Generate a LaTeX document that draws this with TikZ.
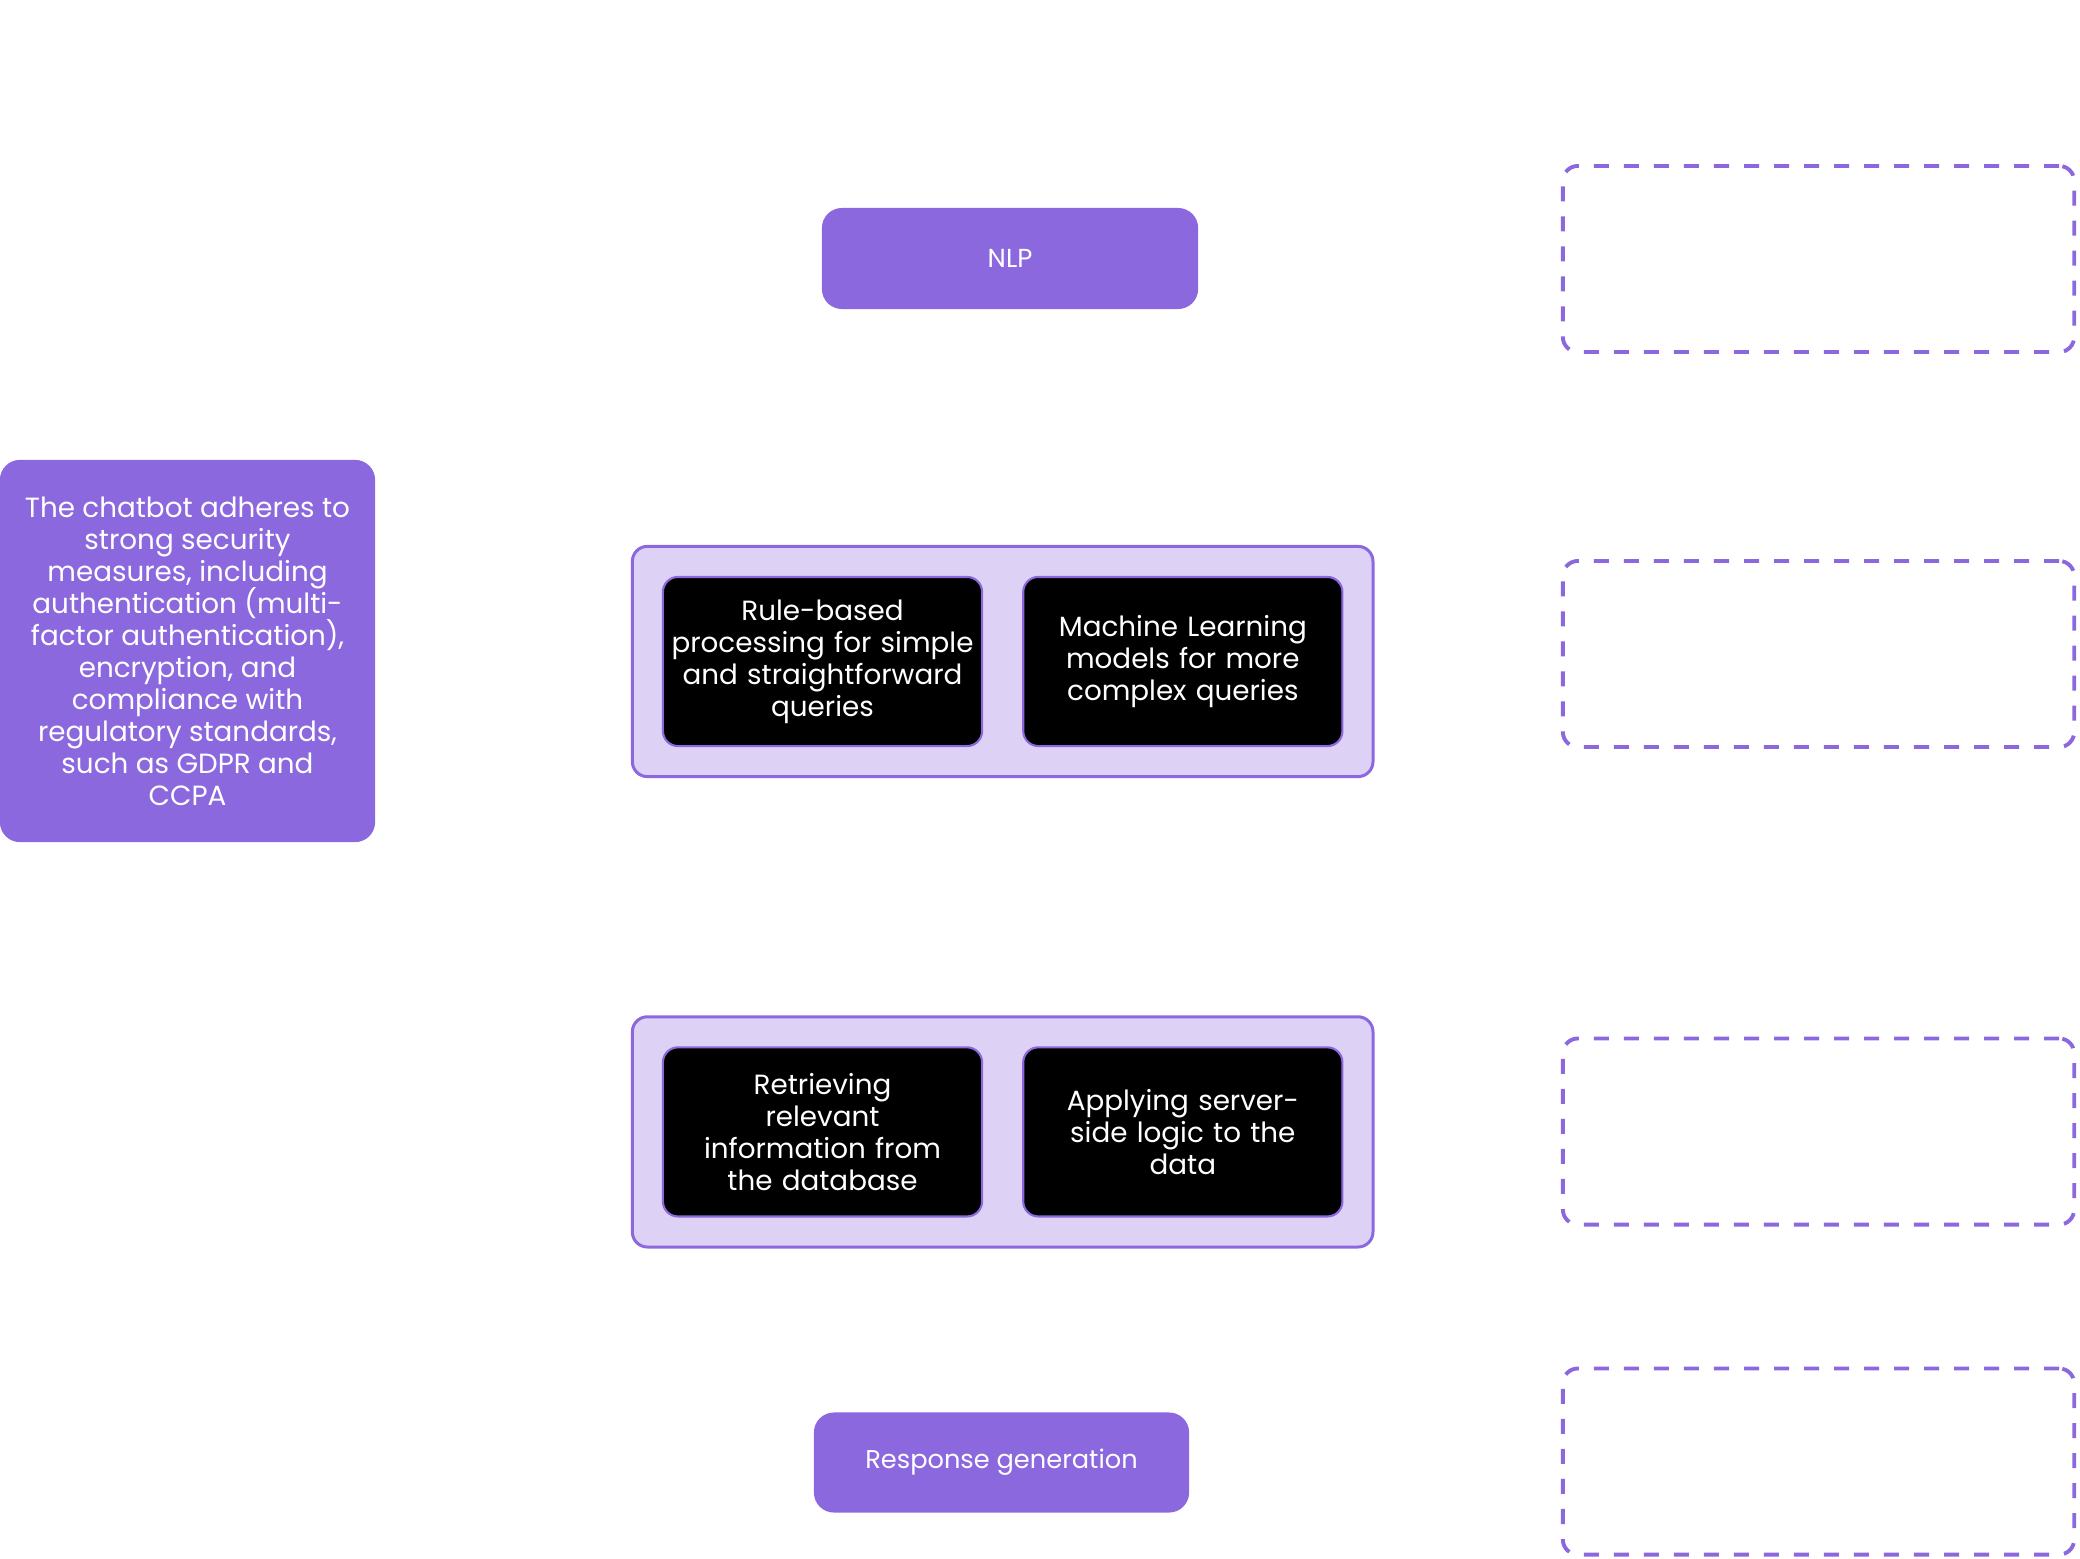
\documentclass[tikz,border=0pt]{standalone}
\usepackage{fontspec}
\setmainfont{Poppins}
\definecolor{BOTpurple}{HTML}{8C68DF}
\definecolor{BOTlilac}{HTML}{DDD1F5}
\newcommand{\flatlines}{\lineskiplimit=-10pt\relax}
\usetikzlibrary{positioning, fit, backgrounds}

\begin{document}
\begin{tikzpicture}[
      x=0.01cm, y=-0.01cm,
      font=\fontsize{7.9}{9.1}\selectfont\flatlines,
      stage/.style={fill=BOTpurple, rounded corners=0.2cm, text=white, align=center,
                    inner sep=0pt, minimum width=3.76cm, minimum height=1.01cm},
      group/.style={draw=BOTpurple, fill=BOTlilac, line width=0.85pt, rounded corners=0.15cm,
                    inner sep=0.295cm},
      task/.style={draw=BOTpurple, fill=black, line width=0.6pt, rounded corners=0.15cm,
                   text=white, align=center, inner sep=0pt, text width=3.1cm,
                   minimum width=3.19cm, minimum height=1.69cm},
      slot/.style={draw=BOTpurple, dash pattern=on 0.15cm off 0.15cm, line width=1.1pt,
                   rounded corners=0.15cm, minimum width=5.11cm, minimum height=1.86cm}
   ]
      \useasboundingbox (0,0) rectangle (2080,1558);

      \node[stage, font=\fontsize{7.4}{9}\selectfont] (nlp) at (1010,258.5) {NLP};

      \node[stage, minimum width=3.75cm, minimum height=3.82cm] (security) at (187.5,651)
         {The chatbot adheres to\\strong security\\measures, including\\authentication (multi-\\factor authentication),\\encryption, and\\compliance with\\regulatory standards,\\such as GDPR and\\CCPA};

      % query handling
      \node[task] (rules) at (822.5,661.5) {Rule-based\\processing for simple\\and straightforward\\queries};
      \node[task, right=0.39cm of rules] (ml) {Machine Learning\\models for more\\complex queries};

      % backend work
      \node[task, below=2.99cm of rules] (fetch) {Retrieving\\relevant\\information from\\the database};
      \node[task, right=0.39cm of fetch] (logic) {Applying server-\\side logic to the\\data};

      \begin{scope}[on background layer]
         \node[group, fit=(rules)(ml)] (queries) {};
         \node[group, fit=(fetch)(logic)] (backend) {};
      \end{scope}

      \node[stage, font=\fontsize{7.3}{9}\selectfont, minimum width=3.75cm, minimum height=1.0cm]
         (response) at (1001.5,1462.5) {Response generation};

      % empty placeholders on the right
      \node[slot] (slotA) at (1818.5,259) {};
      \node[slot] (slotB) at (1818.5,654) {};
      \node[slot] (slotC) at (1818.5,1131.5) {};
      \node[slot] (slotD) at (1818.5,1461.5) {};
   \end{tikzpicture}
\end{document}
